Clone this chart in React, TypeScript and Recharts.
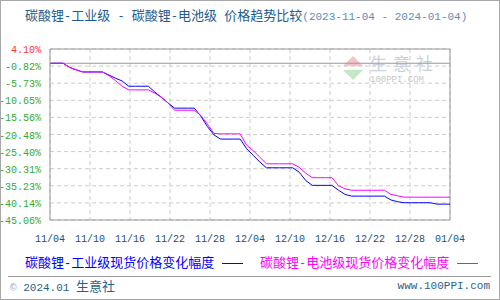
import React from "react";
import { LineChart, Line, XAxis, YAxis, CartesianGrid, ReferenceLine } from "recharts";

// daily dates 2023-11-04 .. 2024-01-04
const dates = [
  "11/04", "11/05", "11/06", "11/07", "11/08", "11/09", "11/10", "11/11", "11/12", "11/13",
  "11/14", "11/15", "11/16", "11/17", "11/18", "11/19", "11/20", "11/21", "11/22", "11/23",
  "11/24", "11/25", "11/26", "11/27", "11/28", "11/29", "11/30", "12/01", "12/02", "12/03",
  "12/04", "12/05", "12/06", "12/07", "12/08", "12/09", "12/10", "12/11", "12/12", "12/13",
  "12/14", "12/15", "12/16", "12/17", "12/18", "12/19", "12/20", "12/21", "12/22", "12/23",
  "12/24", "12/25", "12/26", "12/27", "12/28", "12/29", "12/30", "12/31", "01/01", "01/02",
  "01/03", "01/04",
];

// 碳酸锂-工业级 (%)
const industrial = [
  0, 0, 0, -1.2, -1.9, -2.5, -2.5, -2.5, -2.5, -3.4,
  -4.3, -5.1, -6.6, -6.6, -6.6, -6.6, -8.3, -9.8, -11.4, -12.9,
  -12.9, -12.9, -12.9, -15.2, -18.2, -20.6, -21.8, -21.8, -21.8, -21.8,
  -24.6, -26.5, -28.4, -30.05, -30.05, -30.05, -30.05, -30.05, -31.3, -33.7,
  -35.1, -35.1, -35.1, -35.1, -36.5, -37.7, -38.2, -38.2, -38.2, -38.2,
  -38.2, -38.2, -39.3, -39.8, -40.1, -40.1, -40.1, -40.1, -40.1, -40.5,
  -40.5, -40.5,
];

// 碳酸锂-电池级 (%)
const battery = [
  0, 0, 0, -1.2, -1.9, -2.5, -2.5, -2.5, -2.5, -3.6,
  -5.0, -6.6, -7.65, -7.65, -7.65, -7.65, -8.6, -9.8, -11.4, -13.5,
  -13.5, -13.5, -13.5, -15.0, -17.5, -20.2, -20.3, -20.3, -20.3, -20.3,
  -23.6, -25.1, -27.0, -28.9, -28.9, -28.9, -28.9, -28.9, -29.9, -31.6,
  -32.9, -32.9, -32.9, -32.9, -35.2, -36.1, -36.5, -36.5, -36.5, -36.5,
  -36.5, -36.5, -37.7, -38.1, -38.5, -38.5, -38.5, -38.5, -38.5, -38.5,
  -38.5, -38.5,
];

const xTickLabels = ["11/04", "11/10", "11/16", "11/22", "11/28", "12/04", "12/10", "12/16", "12/22", "12/28", "01/04"];
const yTicks = [4.1, -0.82, -5.73, -10.65, -15.56, -20.48, -25.4, -30.31, -35.23, -40.14, -45.06];

const data = dates.map((d, i) => ({ day: i, date: d, industrial: industrial[i], battery: battery[i] }));
const lastDay = dates.length - 1;
const xTicks = xTickLabels.map((_, i) => (i * lastDay) / (xTickLabels.length - 1));

const mono = "'Liberation Mono', 'DejaVu Sans Mono', monospace";
const cjk = "'Noto Sans CJK SC', sans-serif";

const YTick = (props: any) => {
  const { x, y, payload } = props;
  const v = payload.value as number;
  return (
    <text x={x} y={y} dy={4} textAnchor="end" fontSize={10} fontFamily={mono} fill={v > 0 ? "#ff3333" : "#33aa33"}>
      {v.toFixed(2)}%
    </text>
  );
};

const XTick = (props: any) => {
  const { x, y, payload } = props;
  const idx = xTicks.findIndex((t) => Math.abs(t - payload.value) < 0.01);
  return (
    <text x={x} y={y} dy={12} textAnchor="middle" fontSize={10} fontFamily={mono} fill="#1a4f7a">
      {xTickLabels[idx]}
    </text>
  );
};

const M = ({ children }: { children: React.ReactNode }) => (
  <span style={{ fontFamily: mono, fontSize: 12, whiteSpace: "pre" }}>{children}</span>
);

const LegendMark = ({ color }: { color: string }) => (
  <span style={{ display: "inline-block", width: 21, height: 0, borderTop: `1px solid ${color}`, verticalAlign: "middle", marginLeft: 8 }} />
);

export default function App() {
  return (
    <div style={{ position: "fixed", left: 0, top: 0, width: 500, height: 300, background: "#fff" }}>
      <div style={{ position: "absolute", left: 25, top: 6, whiteSpace: "nowrap", color: "#1e5b8c", fontFamily: cjk, fontSize: 13, lineHeight: "18px" }}>
        碳酸锂<M>-</M>工业级<M> - </M>碳酸锂<M>-</M>电池级<M> </M>价格趋势比较
        <span style={{ fontFamily: mono, fontSize: 11, color: "#5b8fb9" }}>(2023-11-04 - 2024-01-04)</span>
      </div>

      {/* watermark */}
      <div style={{ position: "absolute", left: 343, top: 56, width: 0, height: 0, borderLeft: "10px solid transparent", borderRight: "10px solid transparent", borderBottom: "10px solid #f4c4c4" }} />
      <div style={{ position: "absolute", left: 343, top: 70, width: 0, height: 0, borderLeft: "10px solid transparent", borderRight: "10px solid transparent", borderTop: "10px solid #c4e8c4" }} />
      <div style={{ position: "absolute", left: 370, top: 53, color: "#c8d0e0", fontFamily: cjk, fontSize: 17, lineHeight: "20px", letterSpacing: 6, whiteSpace: "nowrap" }}>生意社</div>
      <div style={{ position: "absolute", left: 370, top: 75, color: "#c8c8c8", fontFamily: mono, fontSize: 9, lineHeight: "10px", whiteSpace: "nowrap" }}>100PPI.COM</div>

      <div style={{ position: "absolute", left: 0, top: 0 }}>
        <LineChart width={500} height={300} data={data} margin={{ top: 49, right: 50, left: 0, bottom: 60 }}>
          <CartesianGrid stroke="#cccccc" strokeDasharray="4 3" />
          <XAxis
            type="number"
            dataKey="day"
            domain={[0, lastDay]}
            ticks={xTicks}
            interval={0}
            height={20}
            tickLine={false}
            tickMargin={4}
            axisLine={{ stroke: "#999999" }}
            tick={<XTick />}
          />
          <YAxis
            type="number"
            domain={[-45.06, 4.1]}
            ticks={yTicks}
            interval={0}
            width={50}
            tickLine={false}
            tickMargin={3}
            axisLine={{ stroke: "#999999" }}
            tick={<YTick />}
          />
          <ReferenceLine y={4.1} stroke="#999999" />
          <ReferenceLine x={lastDay} stroke="#999999" />
          <ReferenceLine y={0} stroke="#999999" />
          <Line type="linear" dataKey="industrial" stroke="#0000ff" strokeWidth={1} dot={false} isAnimationActive={false} />
          <Line type="linear" dataKey="battery" stroke="#ff00ff" strokeWidth={1} dot={false} isAnimationActive={false} />
        </LineChart>
      </div>

      <div style={{ position: "absolute", left: 25, top: 253, whiteSpace: "nowrap", fontFamily: cjk, fontSize: 13, lineHeight: "18px", color: "#0000ff" }}>
        碳酸锂<M>-</M>工业级现货价格变化幅度<LegendMark color="#0000ff" />
      </div>
      <div style={{ position: "absolute", left: 260, top: 253, whiteSpace: "nowrap", fontFamily: cjk, fontSize: 13, lineHeight: "18px", color: "#ff00ff" }}>
        碳酸锂<M>-</M>电池级现货价格变化幅度<LegendMark color="#ff00ff" />
      </div>

      <div style={{ position: "absolute", left: 8, top: 276, width: 483, height: 0, borderTop: "1px solid #999999" }} />
      <div style={{ position: "absolute", left: 10, top: 278, whiteSpace: "nowrap", color: "#2a5f8a", fontFamily: mono, fontSize: 11, lineHeight: "16px" }}>
        <span style={{ color: "#9ab" }}>© </span>
        <span>2024.01 </span>
        <span style={{ fontFamily: cjk, fontSize: 13 }}>生意社</span>
      </div>
      <div style={{ position: "absolute", right: 10, top: 278, whiteSpace: "nowrap", color: "#2a5f8a", fontFamily: mono, fontSize: 11, lineHeight: "16px" }}>
        www.100PPI.com
      </div>

      <div style={{ position: "absolute", left: 0, top: 0, width: 500, height: 300, boxSizing: "border-box", border: "1px solid #a8a8a8", pointerEvents: "none" }} />
    </div>
  );
}
